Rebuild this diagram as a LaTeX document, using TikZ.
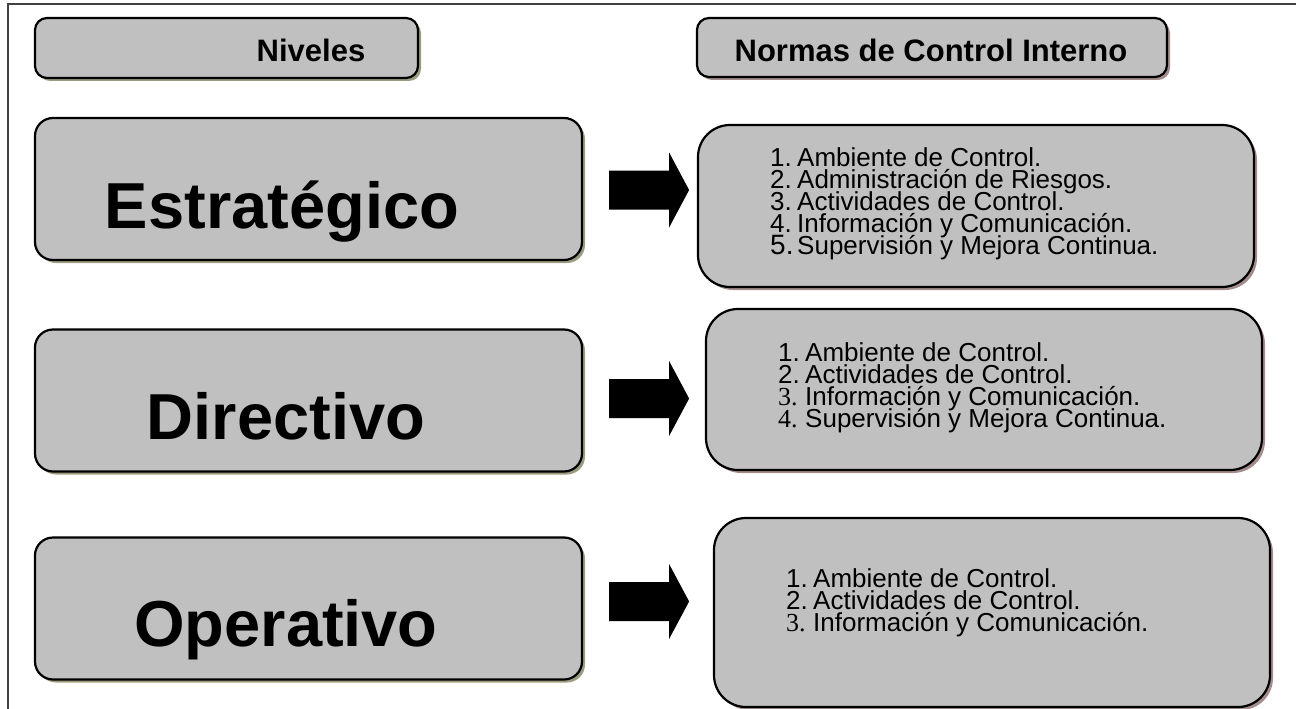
\documentclass[tikz,border=0pt]{standalone}
\usepackage{fontspec}
\setmainfont{Liberation Sans}
\newfontfamily\numserif{Liberation Serif}
\usetikzlibrary{calc,shadows}

\definecolor{boxgray}{HTML}{C0C0C0}
\definecolor{shadowL}{HTML}{9C9C80}
\definecolor{shadowR}{HTML}{A48C8C}

\tikzset{
    boxbase/.style={draw=black, line width=2.2pt, fill=boxgray, inner sep=0pt},
    headbox/.style={boxbase, rounded corners=12pt,
        drop shadow={opacity=1, fill=#1, shadow xshift=3pt, shadow yshift=-3pt}},
    levelbox/.style={boxbase, rounded corners=18pt, minimum width=547, minimum height=142,
        drop shadow={opacity=1, fill=shadowL, shadow xshift=3pt, shadow yshift=-3pt}},
    listbox/.style={boxbase, rounded corners=32pt, minimum width=556,
        drop shadow={opacity=1, fill=shadowR, shadow xshift=3pt, shadow yshift=-3pt}},
    headtext/.style={font=\fontsize{31}{36}\selectfont\bfseries, anchor=base, inner sep=0pt},
    leveltext/.style={font=\fontsize{65}{70}\selectfont\bfseries, anchor=base, inner sep=0pt},
    itemtext/.style={font=\fontsize{26}{22}\selectfont, anchor=base west, inner sep=0pt}
}

% numbered list with a fixed line pitch
\newcommand{\normlist}[1]{\vtop{\baselineskip=22pt\lineskiplimit=-\maxdimen #1}}
\newcommand{\nitem}[2]{\hbox{\makebox[27pt][l]{#1}#2}}

% solid block arrow centred on a coordinate
\newcommand{\blockarrow}[1]{%
    \fill (#1) ++(-40,-19.5) -- ++(60,0) -- ++(0,-18) -- ++(20,37.5)
        -- ++(-20,37.5) -- ++(0,-18) -- ++(-60,0) -- cycle;}

\begin{document}
\begin{tikzpicture}[x=1pt,y=-1pt]
    \useasboundingbox (0,0) rectangle (1296,709);

    % outer frame (top and left only)
    \draw[line width=1.5pt, black!75] (1296,4) -- (8,4) -- (8,709);

    % column headers
    \node[headbox=shadowL, minimum width=383, minimum height=60] (hdrL) at (226.5,48) {};
    \node[headtext] (hdrLT) at (311,62) {Niveles};
    \node[headbox=shadowR, minimum width=470, minimum height=59] (hdrR) at (932,47.5) {};
    \node[headtext] (hdrRT) at (931,62) {Normas de Control Interno};

    % levels
    \node[levelbox] (est) at (308.5,189) {};
    \node[leveltext] (estT) at (282,228) {Estratégico};
    \node[levelbox] (dir) at (308.5,400.5) {};
    \node[leveltext] (dirT) at (286,439) {Directivo};
    \node[levelbox] (ope) at (308.5,608.5) {};
    \node[leveltext] (opeT) at (286,646) {Operativo};

    % norm lists
    \node[listbox, minimum height=162] (lst1) at (976,206) {};
    \node[itemtext] (lst1T) at (770,166) {\normlist{%
        \nitem{1.}{Ambiente de Control.}
        \nitem{2.}{Administración de Riesgos.}
        \nitem{3.}{Actividades de Control.}
        \nitem{4.}{Información y Comunicación.}
        \nitem{\fontsize{28}{22}\selectfont 5.}{Supervisión y Mejora Continua.}}};

    \node[listbox, minimum height=161] (lst2) at (984,389.5) {};
    \node[itemtext] (lst2T) at (778,361) {\normlist{%
        \nitem{1.}{Ambiente de Control.}
        \nitem{2.}{Actividades de Control.}
        \nitem{\numserif 3.}{Información y Comunicación.}
        \nitem{\numserif 4.}{Supervisión y Mejora Continua.}}};

    \node[listbox, minimum height=189] (lst3) at (992,612.5) {};
    \node[itemtext] (lst3T) at (786,587) {\normlist{%
        \nitem{1.}{Ambiente de Control.}
        \nitem{2.}{Actividades de Control.}
        \nitem{\numserif 3.}{Información y Comunicación.}}};

    % arrows from each level to its norms
    \coordinate (a1) at ($(est.east)+(66,1)$);
    \coordinate (a2) at ($(dir.east)+(66,-2)$);
    \coordinate (a3) at ($(ope.east)+(66,-7)$);
    \blockarrow{a1}
    \blockarrow{a2}
    \blockarrow{a3}
\end{tikzpicture}
\end{document}
